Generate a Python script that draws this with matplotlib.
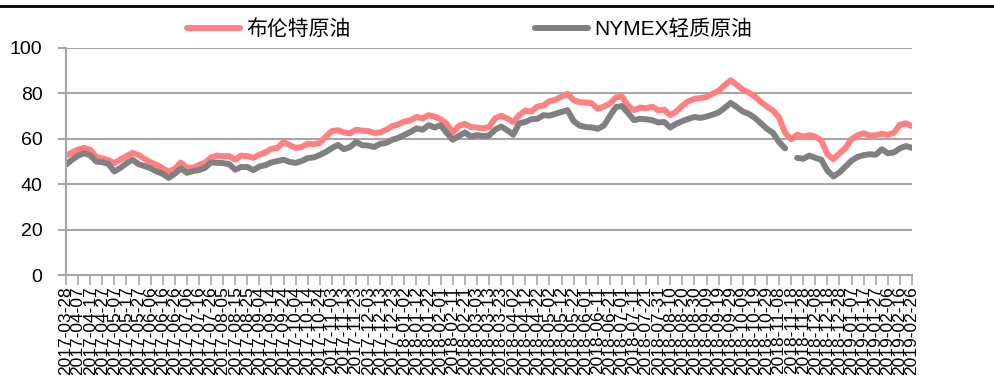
import numpy as np
import pandas as pd
import matplotlib
matplotlib.use('Agg')
import matplotlib.pyplot as plt
import matplotlib.dates as mdates
from matplotlib.lines import Line2D

plt.rcParams['font.family'] = ['Liberation Sans', 'Noto Sans CJK SC', 'DejaVu Sans']

# sampled every 5 days from 2017-03-28 to 2019-02-26
dates = pd.date_range('2017-03-28', '2019-02-26', freq='5D')

brent = [
    52.5, 54.0, 55.3, 56.0, 55.2, 52.0, 51.4, 50.6, 49.3, 50.8,
    52.4, 53.8, 52.8, 51.2, 49.6, 48.6, 47.0, 45.5, 46.8, 49.5,
    47.4, 47.2, 48.5, 49.4, 51.8, 52.6, 52.3, 52.4, 50.8, 52.6,
    52.4, 51.6, 53.0, 54.0, 55.6, 56.0, 58.6, 57.2, 56.0, 56.4,
    57.8, 57.6, 58.2, 61.0, 63.4, 63.8, 62.8, 62.4, 64.0, 63.6,
    63.4, 62.6, 62.8, 64.0, 65.6, 66.4, 67.6, 68.2, 69.6, 69.0,
    70.4, 69.8, 68.6, 66.6, 62.8, 65.6, 66.6, 65.2, 65.0, 64.6,
    65.2, 69.0, 70.2, 69.0, 67.4, 70.4, 72.4, 72.0, 74.2, 74.6,
    76.6, 77.2, 78.6, 79.8, 77.0, 76.2, 76.0, 75.6, 73.2, 74.2,
    75.6, 78.2, 78.6, 74.6, 72.6, 73.8, 73.4, 74.2, 72.6, 72.8,
    70.4, 72.0, 74.6, 76.6, 77.6, 78.0, 78.4, 79.8, 81.2, 83.6,
    85.8, 83.8, 81.6, 80.4, 78.6, 76.2, 74.2, 72.4, 69.4, 62.6,
    59.8, 61.8, 61.0, 61.6, 61.0, 59.2, 53.2, 51.0, 53.6, 56.0,
    59.8, 61.6, 62.4, 61.4, 61.6, 62.2, 61.8, 62.6, 66.2, 66.8,
    65.6,
]

nymex = [
    48.6, 50.8, 52.6, 53.6, 52.8, 50.0, 49.7, 49.0, 45.6, 47.2,
    49.2, 50.8, 48.8, 48.0, 47.0, 45.6, 44.6, 42.8, 44.6, 47.0,
    45.0, 45.8, 46.2, 47.2, 49.6, 49.4, 49.3, 48.8, 46.4, 47.6,
    47.6, 46.2, 47.8, 48.4, 49.6, 50.2, 50.8, 49.8, 49.4, 50.2,
    51.5, 51.8, 52.9, 54.2, 55.9, 57.3, 55.4, 56.4, 58.6, 57.2,
    57.0, 56.4, 57.8, 58.2, 59.6, 60.4, 61.7, 63.0, 64.6, 64.0,
    66.0, 65.0, 66.0, 62.6, 59.6, 61.2, 62.8, 61.0, 61.6, 61.2,
    61.4, 64.0, 65.4, 63.8, 61.8, 66.8, 67.4, 68.6, 68.8, 70.4,
    70.2, 71.0, 71.8, 72.6, 67.8, 65.8, 65.2, 65.0, 64.4, 65.8,
    70.0, 74.0, 74.4, 71.4, 68.2, 68.8, 68.6, 68.2, 67.2, 67.4,
    65.0, 66.6, 67.8, 68.8, 69.6, 69.2, 69.8, 70.6, 71.6, 73.6,
    75.8, 74.0, 72.0, 71.0, 69.2, 66.8, 64.4, 62.6, 58.6, 55.8,
    np.nan, 51.6, 51.2, 52.6, 51.6, 50.8, 46.0, 43.4, 45.2, 47.8,
    50.4, 52.0, 52.8, 53.2, 53.0, 55.4, 53.6, 54.0, 55.8, 56.8,
    56.0,
]

labels = ['布伦特原油', 'NYMEX轻质原油']
colors = ['#FF8080', '#808080']
grid_color = '#A6A6A6'

fig = plt.figure(figsize=(9.95, 3.83), dpi=100)
ax = fig.add_axes([66 / 995, 108 / 383, 846 / 995, 227 / 383])

ax.plot(dates, brent, color=colors[0], lw=4.3, label=labels[0], solid_capstyle='round')
ax.plot(dates, nymex, color=colors[1], lw=4.3, label=labels[1], solid_capstyle='round')

ax.set_ylim(0, 100)
ax.set_yticks(range(0, 101, 20))
ax.set_xlim(dates[0], dates[-1])
ax.set_xticks(pd.date_range(dates[0], dates[-1], freq='10D'))
ax.xaxis.set_major_formatter(mdates.DateFormatter('%Y-%m-%d'))

ax.grid(axis='y', color=grid_color, lw=1.5)
ax.set_axisbelow(True)
for s in ['top', 'right']:
    ax.spines[s].set_visible(False)
for s in ['left', 'bottom']:
    ax.spines[s].set_color(grid_color)
    ax.spines[s].set_linewidth(1.5)

ax.tick_params(axis='y', length=6, width=1.5, color=grid_color, pad=11, labelsize=14)
ax.tick_params(axis='x', length=7, width=1.2, color=grid_color, pad=1, labelsize=12.5,
               labelrotation=90)

fig.legend(loc='center left', bbox_to_anchor=(187 / 995, 1 - 29 / 383), ncol=2,
           frameon=False, fontsize=15, handlelength=2.55, handletextpad=0.3,
           columnspacing=8.85, borderpad=0, borderaxespad=0)

# rule across the top of the page
fig.add_artist(Line2D([0, 1], [1 - 6 / 383, 1 - 6 / 383], color='black', lw=2))

fig.savefig('out.png', dpi=100)
